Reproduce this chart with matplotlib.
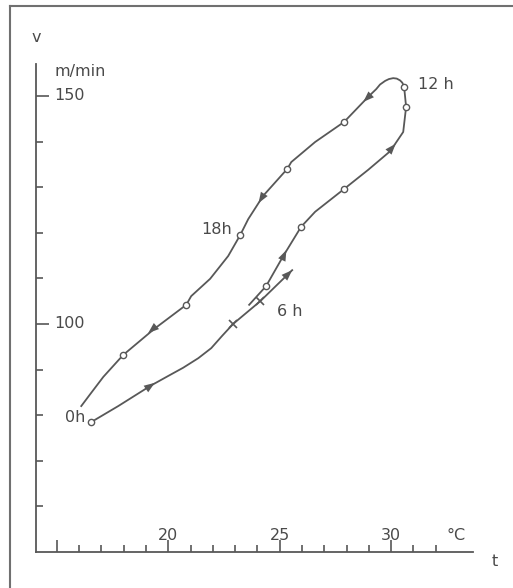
import matplotlib.pyplot as plt
from matplotlib.lines import Line2D

# temperature t (°C) and speed v (m/min)
# upward branch after the break near 6 h, round 12 h, back down through 18 h
loop_t = [23.63, 24.39, 25.16, 25.96, 26.59, 27.89, 28.97, 29.96, 30.54, 30.67,
          30.58, 30.50, 30.40, 30.25, 30.09, 29.90, 29.73, 29.50, 29.33, 28.97,
          27.89, 26.59, 25.52, 25.34, 24.26, 23.59, 23.23, 22.69, 21.88, 21.03,
          20.81, 19.37, 17.98, 17.09, 16.50, 16.10]
loop_v = [104.2, 108.3, 114.9, 121.3, 124.6, 129.6, 133.8, 137.9, 142.1, 147.6,
          152.0, 152.9, 153.4, 153.8, 153.9, 153.7, 153.3, 152.5, 151.5, 149.8,
          144.3, 139.9, 135.5, 134.0, 128.1, 123.0, 119.5, 114.9, 109.9, 106.1,
          104.2, 98.9, 93.2, 88.4, 84.6, 82.0]

# branch from 0 h up to 6 h
start_t = [16.55, 17.76, 19.19, 20.0, 20.67, 21.35, 21.93, 22.42, 22.91, 24.13, 25.56]
start_v = [78.5, 82.0, 86.4, 88.6, 90.4, 92.5, 94.7, 97.4, 100.0, 105.0, 111.8]

# measured points (open circles) and crosses
circle_t = [16.55, 17.98, 20.81, 23.23, 25.34, 27.89, 30.58, 30.67, 27.89, 25.96, 24.39]
circle_v = [78.5, 93.2, 104.2, 119.5, 134.0, 144.3, 152.0, 147.6, 129.6, 121.3, 108.3]
cross_t = [22.91, 24.13]
cross_v = [100.0, 105.0]

# arrow heads: (from, to) along the curve
arrows = [((18.9, 85.4), (19.4, 87.1)),
          ((25.1, 109.6), (25.56, 111.8)),
          ((24.95, 112.5), (25.3, 116.2)),
          ((29.7, 136.7), (30.2, 139.5)),
          ((29.2, 150.8), (28.75, 148.7)),
          ((24.5, 130.0), (24.05, 126.5)),
          ((19.7, 100.5), (19.1, 98.0))]

labels = [(16.27, 79.6, '0h', 'right'), (22.86, 120.8, '18h', 'right'),
          (31.2, 152.6, '12 h', 'left'), (24.9, 102.8, '6 h', 'left')]

col = '#585858'
txt = '#4a4a4a'
plt.rcParams['font.family'] = 'DejaVu Sans'

fig = plt.figure(figsize=(5.13, 5.88), dpi=100)
ax = fig.add_axes([36 / 513, 36 / 588, 437 / 513, 488 / 588])
ax.set_xlim(14.07, 33.67)
ax.set_ylim(50, 157.0)

for s in ['top', 'right']:
    ax.spines[s].set_visible(False)
for s in ['left', 'bottom']:
    ax.spines[s].set_color(col)
    ax.spines[s].set_linewidth(1.3)

ax.set_xticks([15, 20, 25, 30])
ax.set_xticks(range(16, 33), minor=True)
ax.set_yticks([100, 150])
ax.set_yticks([60, 70, 80, 90, 110, 120, 130, 140], minor=True)
ax.tick_params(which='both', direction='in', color=col, width=1.2,
               labelbottom=False, labelleft=False)
ax.tick_params(which='major', length=9)
ax.tick_params(which='minor', length=5)

for x in [20, 25, 30]:
    ax.text(x, 52.0, str(x), ha='center', va='bottom', fontsize=11.5, color=txt)
ax.text(32.9, 52.0, '°C', ha='center', va='bottom', fontsize=11.5, color=txt)
for y in [100, 150]:
    ax.text(14.9, y, str(y), ha='left', va='center', fontsize=11.5, color=txt)
ax.text(14.92, 155.3, 'm/min', ha='left', va='center', fontsize=11.5, color=txt)
fig.text(36 / 513, 1 - 37 / 588, 'v', ha='center', va='center', fontsize=11.5, color=txt)
fig.text(495 / 513, 1 - 562 / 588, 't', ha='center', va='center', fontsize=11.5, color=txt)

ax.plot(loop_t, loop_v, color=col, lw=1.3, clip_on=False)
ax.plot(start_t, start_v, color=col, lw=1.3, clip_on=False)
ax.plot(circle_t, circle_v, 'o', ms=4.5, mfc='white', mec=col, mew=1.0, zorder=3)
ax.plot(cross_t, cross_v, 'x', ms=6, color=col, mew=1.2, zorder=3)

for p0, p1 in arrows:
    ax.annotate('', xy=p1, xytext=p0,
                arrowprops=dict(arrowstyle='-|>,head_length=0.6,head_width=0.22',
                                color=col, lw=0.01, mutation_scale=13,
                                shrinkA=0, shrinkB=0))

for x, y, s, ha in labels:
    ax.text(x, y, s, ha=ha, va='center', fontsize=11.5, color=txt)

# frame lines of the page (top and left)
fig.add_artist(Line2D([10 / 513, 1], [1 - 6 / 588, 1 - 6 / 588], color='#707070', lw=1.5))
fig.add_artist(Line2D([10 / 513, 10 / 513], [0, 1 - 6 / 588], color='#707070', lw=1.5))

fig.savefig('out.png', dpi=100)
